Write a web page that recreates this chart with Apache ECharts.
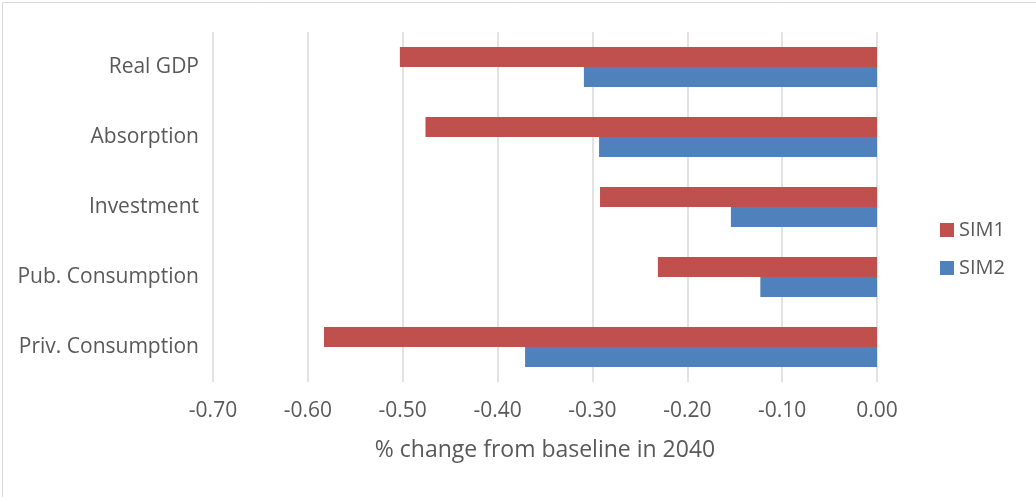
<!DOCTYPE html>
<html>
<head>
<meta charset="utf-8">
<script src="https://cdn.jsdelivr.net/npm/echarts@6/dist/echarts.min.js"></script>
<style>
  html, body { margin: 0; padding: 0; background: #fff; }
  #chart { width: 1036px; height: 497px; }
</style>
</head>
<body>
<div id="chart"></div>
<script>
// Macro indicators, % change from baseline in 2040
const categories = ['Real GDP', 'Absorption', 'Investment', 'Pub. Consumption', 'Priv. Consumption'];
const sim1 = [-0.503, -0.476, -0.292, -0.231, -0.583];
const sim2 = [-0.309, -0.293, -0.154, -0.123, -0.371];
const seriesNames = ['SIM1', 'SIM2'];
const axisTitle = '% change from baseline in 2040';

const font = '"Open Sans", "Noto Sans", sans-serif';
const textColor = '#595959';

const chart = echarts.init(document.getElementById('chart'), null, { renderer: 'canvas' });
chart.setOption({
  animation: false,
  backgroundColor: '#fff',
  graphic: [{
    type: 'rect',
    left: 0, top: 0,
    shape: { x: 0.5, y: 0.5, width: 1035, height: 496 },
    style: { fill: 'none', stroke: '#d9d9d9', lineWidth: 1 },
    silent: true
  }],
  legend: {
    orient: 'vertical',
    left: 935,
    top: 215,
    itemWidth: 14,
    itemHeight: 14,
    itemGap: 18,
    icon: 'rect',
    textStyle: { fontFamily: font, fontSize: 20, color: textColor },
    data: seriesNames
  },
  grid: { left: 213, right: 159, top: 32, bottom: 115, containLabel: false },
  xAxis: {
    type: 'value',
    min: -0.7,
    max: 0,
    interval: 0.1,
    axisLine: { show: false },
    axisTick: { show: false },
    splitLine: { lineStyle: { color: '#d9d9d9', width: 1.5 } },
    axisLabel: {
      formatter: v => v.toFixed(2),
      fontFamily: font, fontSize: 21, color: textColor, margin: 19
    },
    name: axisTitle,
    nameLocation: 'middle',
    nameGap: 57,
    nameTextStyle: { fontFamily: font, fontSize: 23, color: textColor }
  },
  yAxis: {
    type: 'category',
    inverse: true,
    data: categories,
    axisLine: { show: false },
    axisTick: { show: false },
    axisLabel: { fontFamily: font, fontSize: 21, color: textColor, margin: 14 }
  },
  series: [
    { name: 'SIM1', type: 'bar', data: sim1, itemStyle: { color: '#C0504D' }, barGap: '0%', barCategoryGap: '43%' },
    { name: 'SIM2', type: 'bar', data: sim2, itemStyle: { color: '#4F81BD' }, barGap: '0%', barCategoryGap: '43%' }
  ]
});
</script>
</body>
</html>
